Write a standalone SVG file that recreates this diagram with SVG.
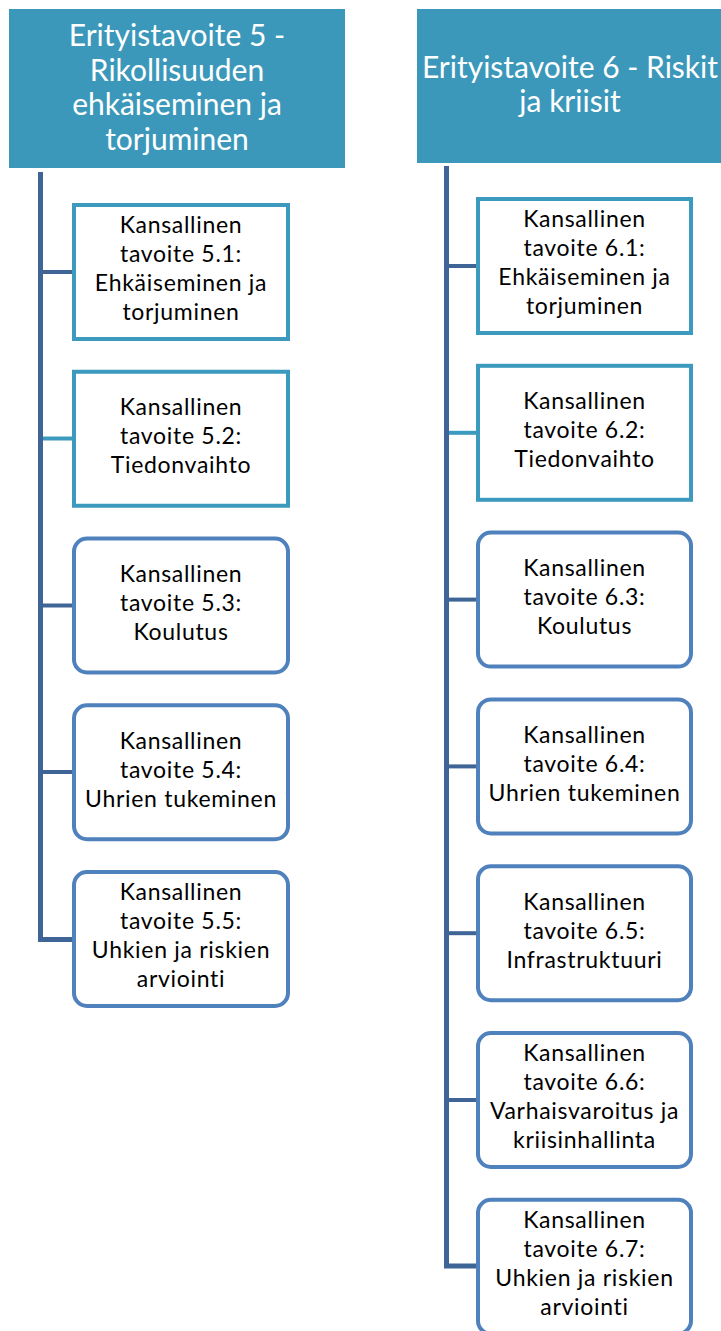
<svg xmlns="http://www.w3.org/2000/svg" width="721" height="1331" viewBox="0 0 721 1331">
<style>
.hdr{fill:#3b98ba}
.ht{font-family:Lato,"Open Sans",sans-serif;font-size:30px;fill:#fff;text-anchor:middle}
.bt{font-family:Lato,"Open Sans",sans-serif;font-size:23px;letter-spacing:0.7px;fill:#000;text-anchor:middle}
.sq{fill:#fff;stroke:#3b9abd;stroke-width:4}
.rd{fill:#fff;stroke:#4f81bd;stroke-width:4}
.trunk{stroke:#3e6596;stroke-width:5;fill:none}
.cd{stroke:#3e6596;stroke-width:4}
.ct{stroke:#3b9abd;stroke-width:4}
</style>
<g id="connectors">
<path class="trunk" d="M40.5 172 V939.5 H72"/>
<line class="cd" x1="40" y1="272" x2="72" y2="272"/>
<line class="ct" x1="43" y1="438.5" x2="72" y2="438.5"/>
<line class="cd" x1="40" y1="605.5" x2="72" y2="605.5"/>
<line class="cd" x1="40" y1="772" x2="72" y2="772"/>
<path class="trunk" d="M446.5 166 V1266 H476"/>
<line class="cd" x1="446" y1="266" x2="476" y2="266"/>
<line class="ct" x1="449" y1="432.8" x2="476" y2="432.8"/>
<line class="cd" x1="446" y1="599.6" x2="476" y2="599.6"/>
<line class="cd" x1="446" y1="766.4" x2="476" y2="766.4"/>
<line class="cd" x1="446" y1="933.2" x2="476" y2="933.2"/>
<line class="cd" x1="446" y1="1100" x2="476" y2="1100"/>
</g>
<g id="h5">
<rect class="hdr" x="9" y="9" width="336" height="159"/>
<text class="ht" x="177" y="46">Erityistavoite 5 -</text>
<text class="ht" x="177" y="80.5">Rikollisuuden</text>
<text class="ht" x="177" y="115">ehkäiseminen ja</text>
<text class="ht" x="177" y="149.5">torjuminen</text>
</g>
<g id="h6">
<rect class="hdr" x="417" y="9" width="304" height="154"/>
<text class="ht" x="570" y="78">Erityistavoite 6 - Riskit</text>
<text class="ht" x="570" y="112">ja kriisit</text>
</g>
<g id="n51">
<rect class="sq" x="74" y="205" width="214" height="134"/>
<text class="bt" x="181" y="233">Kansallinen</text>
<text class="bt" x="181" y="262">tavoite 5.1:</text>
<text class="bt" x="181" y="291">Ehkäiseminen ja</text>
<text class="bt" x="181" y="320">torjuminen</text>
</g>
<g id="n52">
<rect class="sq" x="74" y="371.75" width="214" height="134"/>
<text class="bt" x="181" y="415">Kansallinen</text>
<text class="bt" x="181" y="444">tavoite 5.2:</text>
<text class="bt" x="181" y="473">Tiedonvaihto</text>
</g>
<g id="n53">
<rect class="rd" x="74" y="538.5" width="214" height="134" rx="13"/>
<text class="bt" x="181" y="582">Kansallinen</text>
<text class="bt" x="181" y="611">tavoite 5.3:</text>
<text class="bt" x="181" y="640">Koulutus</text>
</g>
<g id="n54">
<rect class="rd" x="74" y="705.25" width="214" height="134" rx="13"/>
<text class="bt" x="181" y="748.5">Kansallinen</text>
<text class="bt" x="181" y="777.5">tavoite 5.4:</text>
<text class="bt" x="181" y="806.5">Uhrien tukeminen</text>
</g>
<g id="n55">
<rect class="rd" x="74" y="872" width="214" height="134" rx="13"/>
<text class="bt" x="181" y="900">Kansallinen</text>
<text class="bt" x="181" y="929">tavoite 5.5:</text>
<text class="bt" x="181" y="958">Uhkien ja riskien</text>
<text class="bt" x="181" y="987">arviointi</text>
</g>
<g id="n61">
<rect class="sq" x="478" y="199" width="213" height="134"/>
<text class="bt" x="584.5" y="227">Kansallinen</text>
<text class="bt" x="584.5" y="256">tavoite 6.1:</text>
<text class="bt" x="584.5" y="285">Ehkäiseminen ja</text>
<text class="bt" x="584.5" y="314">torjuminen</text>
</g>
<g id="n62">
<rect class="sq" x="478" y="365.8" width="213" height="134"/>
<text class="bt" x="584.5" y="409">Kansallinen</text>
<text class="bt" x="584.5" y="438">tavoite 6.2:</text>
<text class="bt" x="584.5" y="467">Tiedonvaihto</text>
</g>
<g id="n63">
<rect class="rd" x="478" y="532.6" width="213" height="134" rx="13"/>
<text class="bt" x="584.5" y="576">Kansallinen</text>
<text class="bt" x="584.5" y="605">tavoite 6.3:</text>
<text class="bt" x="584.5" y="634">Koulutus</text>
</g>
<g id="n64">
<rect class="rd" x="478" y="699.4" width="213" height="134" rx="13"/>
<text class="bt" x="584.5" y="743">Kansallinen</text>
<text class="bt" x="584.5" y="772">tavoite 6.4:</text>
<text class="bt" x="584.5" y="801">Uhrien tukeminen</text>
</g>
<g id="n65">
<rect class="rd" x="478" y="866.2" width="213" height="134" rx="13"/>
<text class="bt" x="584.5" y="910">Kansallinen</text>
<text class="bt" x="584.5" y="939">tavoite 6.5:</text>
<text class="bt" x="584.5" y="968">Infrastruktuuri</text>
</g>
<g id="n66">
<rect class="rd" x="478" y="1033" width="213" height="134" rx="13"/>
<text class="bt" x="584.5" y="1061">Kansallinen</text>
<text class="bt" x="584.5" y="1090">tavoite 6.6:</text>
<text class="bt" x="584.5" y="1119">Varhaisvaroitus ja</text>
<text class="bt" x="584.5" y="1148">kriisinhallinta</text>
</g>
<g id="n67">
<rect class="rd" x="478" y="1199.8" width="213" height="134" rx="13"/>
<text class="bt" x="584.5" y="1228">Kansallinen</text>
<text class="bt" x="584.5" y="1257">tavoite 6.7:</text>
<text class="bt" x="584.5" y="1286">Uhkien ja riskien</text>
<text class="bt" x="584.5" y="1315">arviointi</text>
</g>
</svg>
